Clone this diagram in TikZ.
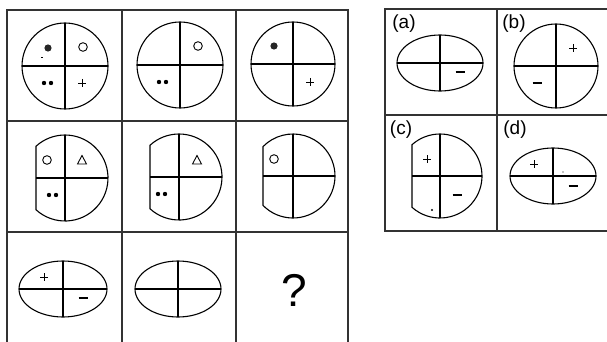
\documentclass[tikz,border=0pt]{standalone}
\usepackage{fontspec}
\setsansfont{Liberation Sans}

\begin{document}
\begin{tikzpicture}[x=1pt,y=-1pt,
  frame/.style={line width=1.1pt, black!80},
  outl/.style={line width=1.1pt},
  sym/.style={line width=0.9pt},
  lbl/.style={font=\sffamily\fontsize{19}{19}\selectfont, inner sep=0pt}]
\useasboundingbox (0,0) rectangle (607,342);
% left grid, open at the bottom
\draw[frame] (7,342) -- (7,10) -- (348,10) -- (348,342);
\draw[frame] (122,10) -- (122,342);
\draw[frame] (236,10) -- (236,342);
\draw[frame] (7,121) -- (348,121);
\draw[frame] (7,232) -- (348,232);
% answer panel
\draw[frame] (607,9) -- (385,9) -- (385,231) -- (607,231);
\draw[frame] (497,9) -- (497,231);
\draw[frame] (385,115) -- (607,115);
% full circles
\foreach \cx/\cy/\r in {65/66/43, 180/65/43, 293/64/42, 556/66/42}{
  \draw[outl] (\cx,\cy) circle (\r);
  \draw[outl] (\cx,\cy-\r) -- (\cx,\cy+\r);
  \draw[outl] (\cx-\r,\cy) -- (\cx+\r,\cy);
}
% circles cut flat on the left
\foreach \cx/\cy/\r/\d [evaluate=\d as \a using {acos(-\d/\r)}] in
    {65/178/43/29, 179/177/43/29, 293/176/42/30, 440/176/42/28}{
  \draw[outl] (\cx,\cy) ++(\a:\r) arc[start angle=\a, end angle=-\a, radius=\r] -- cycle;
  \draw[outl] (\cx,\cy-\r) -- (\cx,\cy+\r);
  \draw[outl] (\cx-\d,\cy) -- (\cx+\r,\cy);
}
% ellipses
\foreach \cx/\cy/\rx/\ry in {63/289/44/28, 178/289/43/28, 440/63/43/28, 553/176/43/28}{
  \draw[outl] (\cx,\cy) ellipse [x radius=\rx, y radius=\ry];
  \draw[outl] (\cx,\cy-\ry) -- (\cx,\cy+\ry);
  \draw[outl] (\cx-\rx,\cy) -- (\cx+\rx,\cy);
}
% filled dots
\fill[black!85] (48,48) circle (3.6);
\fill[black!85] (274,46) circle (3.6);
\draw[sym] (41,57) -- (43,57);
% open circles
\draw[sym] (83,47) circle (4.3);
\draw[sym] (198,46) circle (4.3);
\draw[sym] (47,160) circle (4.3);
\draw[sym] (274,159) circle (4.3);
% pairs of dots
\foreach \px/\py in {44/83, 159/82, 49/195, 158/194}{
  \fill (\px,\py) circle (2.2);
  \fill (\px+7,\py) circle (2.2);
}
% triangles
\foreach \px/\py in {82/160, 197/160}{
  \draw[sym, line join=miter] (\px-4.5,\py+4) -- (\px+4.5,\py+4) -- (\px,\py-4.5) -- cycle;
}
% plus signs
\foreach \px/\py in {82/83, 310/82, 44/277, 573/48, 427/159, 534/164}{
  \draw[sym] (\px-4,\py) -- (\px+4,\py);
  \draw[sym] (\px,\py-4) -- (\px,\py+4);
}
% minus signs
\foreach \px/\py in {83/298, 460/72, 537/83, 457/195, 573/186}{
  \draw[line width=1.1pt] (\px-4.5,\py) -- (\px+4.5,\py);
}
% specks
\fill (432,210) circle (1.2);
\fill (563,172) circle (0.6);
% labels
\node[lbl] (la) at (404,24) {(a)};
\node[lbl] (lb) at (514,24) {(b)};
\node[lbl] (lc) at (401,130) {(c)};
\node[lbl] (ld) at (515,130) {(d)};
\node[font=\sffamily\fontsize{46}{46}\selectfont, inner sep=0pt] (q) at (294,290) {?};
\end{tikzpicture}
\end{document}
